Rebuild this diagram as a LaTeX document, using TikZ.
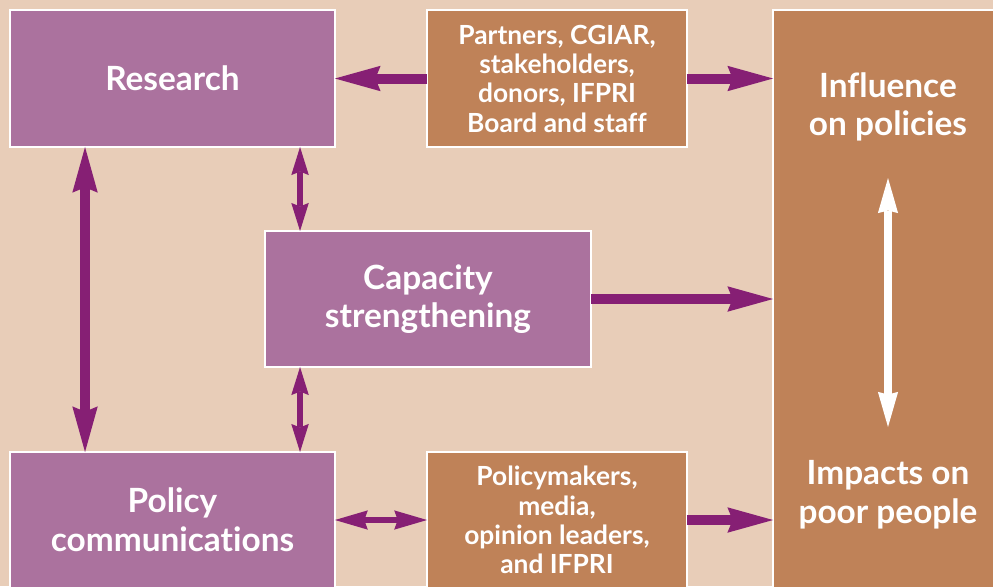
\documentclass[tikz,border=0pt]{standalone}
\usepackage{fontspec}
\setmainfont{Lato}[Ligatures=NoCommon]
\usetikzlibrary{calc}
\usetikzlibrary{arrows.meta}

\definecolor{bgbeige}{HTML}{E8CDB8}
\definecolor{boxpurple}{HTML}{AB729E}
\definecolor{boxbrown}{HTML}{BF8258}
\definecolor{arrpurple}{HTML}{861F74}

\tikzset{
  bigtip/.tip={Stealth[length=26pt, width=14.5pt, inset=3pt, line width=0pt]},
  smalltip/.tip={Stealth[length=16pt, width=10pt, inset=2pt, line width=0pt]},
  sidetip/.tip={Stealth[length=18.7pt, width=11pt, inset=2pt, line width=0pt]},
  whitetip/.tip={Stealth[length=20pt, width=11.5pt, inset=1.5pt, line width=0pt]},
}

\begin{document}
\begin{tikzpicture}[x=0.02cm, y=-0.02cm,
  pbox/.style={draw=white, line width=1.15pt, fill=boxpurple, inner sep=0pt, outer sep=0pt,
    text=white, align=center, font=\bfseries\fontsize{19}{22}\selectfont},
  bbox/.style={pbox, fill=boxbrown, font=\bfseries\fontsize{15}{16.7}\selectfont},
  bigtext/.style={text=white, align=center, inner sep=0pt, font=\bfseries\fontsize{19}{22}\selectfont},
  bigarr/.style={draw=arrpurple, line width=5.7pt},
  smallarr/.style={draw=arrpurple, line width=3.4pt},
  whitearr/.style={draw=white, line width=4.5pt}]
\useasboundingbox (0,0) rectangle (993,586);
\clip (0,0) rectangle (993,586);
\fill[bgbeige] (0,0) rectangle (993,586);

% boxes
\node[pbox, minimum width=6.5cm, minimum height=2.74cm] (research) at (172.5,78.5) {Research};
\node[bbox, minimum width=5.2cm, minimum height=2.74cm] (partners) at (557,78.5)
  {Partners, CGIAR,\\stakeholders,\\donors, IFPRI\\Board and staff};
\node[bbox, minimum width=4.6cm, minimum height=11.8cm] (outcome) at (888,305) {};
\node[pbox, minimum width=6.52cm, minimum height=2.72cm] (capacity) at (428,299) {Capacity\\strengthening};
\node[pbox, minimum width=6.5cm, minimum height=2.72cm] (policy) at (172.5,520) {Policy\\communications};
\node[bbox, minimum width=5.2cm, minimum height=2.72cm] (pmakers) at (557,520)
  {Policymakers,\\media,\\opinion leaders,\\and IFPRI};

% texts in the tall box
\node[bigtext] (infl) at (888,107) {Influence\\on policies};
\node[bigtext] (impact) at (888,495) {Impacts on\\poor people};

% arrows
\coordinate (leftx) at ($(research.south west)+(75,0)$);
\coordinate (midx) at ($(capacity.north west)+(35,0)$);
\draw[bigarr, -bigtip] (partners.west) -- (research.east);
\draw[bigarr, -bigtip] (partners.east) -- (partners.east -| outcome.west);
\draw[bigarr, -bigtip] (capacity.east) -- (capacity.east -| outcome.west);
\draw[bigarr, -bigtip] (pmakers.east) -- (pmakers.east -| outcome.west);
\draw[bigarr, bigtip-bigtip] (research.south -| leftx) -- (policy.north -| leftx);
\draw[smallarr, smalltip-smalltip] (research.south -| midx) -- (capacity.north -| midx);
\draw[smallarr, smalltip-smalltip] (capacity.south -| midx) -- (policy.north -| midx);
\draw[smallarr, sidetip-sidetip] (policy.east) -- (pmakers.west);

\coordinate (wtop) at (888,178);
\coordinate (wbot) at (888,427);
\draw[whitearr, whitetip-whitetip] (wtop) -- (wbot);
\end{tikzpicture}
\end{document}
